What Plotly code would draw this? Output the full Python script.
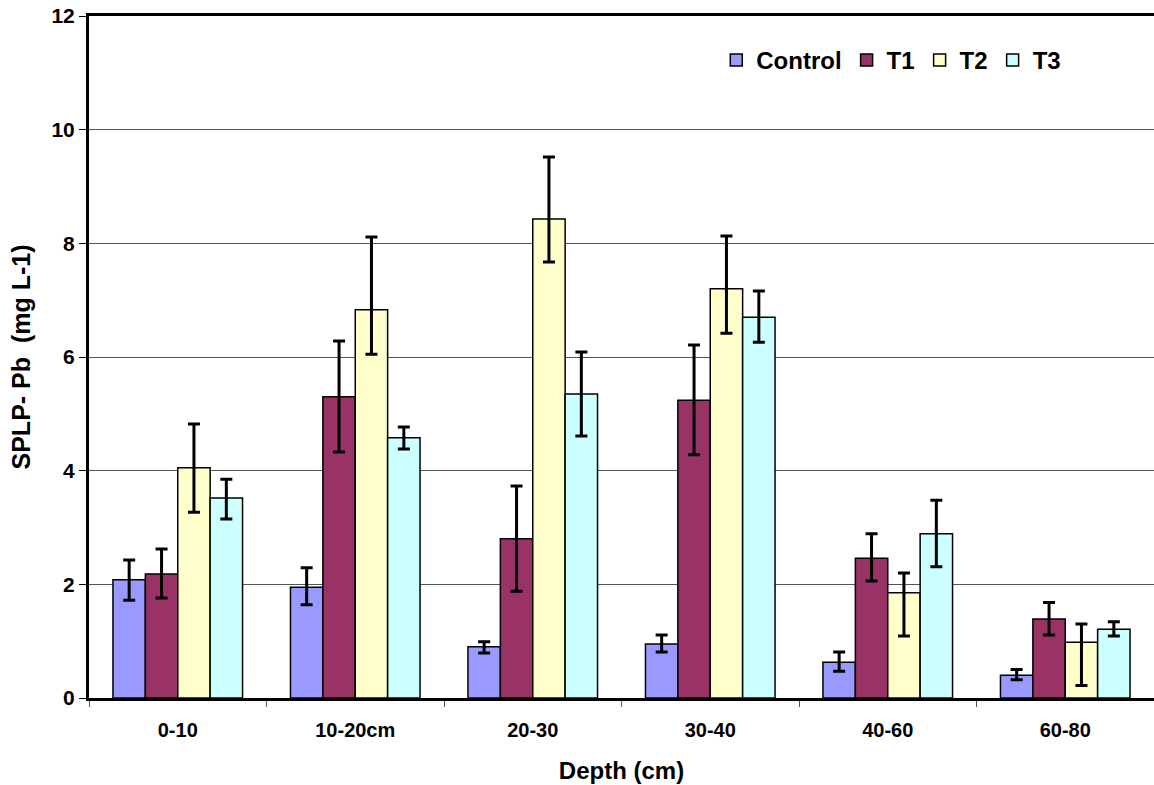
import plotly.graph_objects as go

categories = ["0-10", "10-20cm", "20-30", "30-40", "40-60", "60-80"]
series_names = ["Control", "T1", "T2", "T3"]
y_ticks = [0, 2, 4, 6, 8, 10, 12]

control = [2.08, 1.95, 0.90, 0.95, 0.63, 0.40]
control_plus = [0.35, 0.34, 0.09, 0.16, 0.18, 0.10]
control_minus = [0.36, 0.31, 0.11, 0.14, 0.16, 0.08]

t1 = [2.18, 5.30, 2.80, 5.24, 2.46, 1.39]
t1_plus = [0.44, 0.98, 0.93, 0.97, 0.43, 0.29]
t1_minus = [0.42, 0.97, 0.92, 0.96, 0.40, 0.28]

t2 = [4.05, 6.83, 8.43, 7.20, 1.85, 0.98]
t2_plus = [0.77, 1.28, 1.09, 0.93, 0.35, 0.32]
t2_minus = [0.78, 0.78, 0.76, 0.78, 0.76, 0.76]

t3 = [3.52, 4.58, 5.35, 6.70, 2.89, 1.21]
t3_plus = [0.33, 0.19, 0.74, 0.46, 0.59, 0.13]
t3_minus = [0.37, 0.20, 0.74, 0.44, 0.58, 0.12]

colors = ["#9999FF", "#993366", "#FFFFCC", "#CCFFFF"]

values = [control, t1, t2, t3]
plus = [control_plus, t1_plus, t2_plus, t3_plus]
minus = [control_minus, t1_minus, t2_minus, t3_minus]

FONT = "Arial, Liberation Sans, sans-serif"

fig = go.Figure()
for name, vals, p, m, c in zip(series_names, values, plus, minus, colors):
    fig.add_trace(go.Bar(
        name=f"<b>{name}</b>", x=categories, y=vals,
        marker=dict(color=c, line=dict(color="black", width=1.5)),
        error_y=dict(type="data", symmetric=False, array=p, arrayminus=m,
                     color="black", thickness=3, width=6),
    ))

fig.update_layout(
    width=1154, height=785,
    margin=dict(l=89, r=0, t=16, b=87, autoexpand=False),
    paper_bgcolor="white", plot_bgcolor="white",
    barmode="group", bargap=0.27, bargroupgap=0,
    font=dict(family=FONT, color="black", size=20),
    legend=dict(orientation="h", x=0.589, y=0.935, xanchor="left", yanchor="middle",
                font=dict(family=FONT, size=24, color="black"),
                bgcolor="rgba(0,0,0,0)", itemwidth=30, tracegroupgap=0),
    showlegend=True,
)

fig.update_xaxes(
    automargin=False,
    showline=True, linecolor="black", linewidth=3, mirror=True,
    ticks="outside", tickson="boundaries", ticklen=6, tickcolor="#555", tickwidth=1,
    tickvals=categories, ticktext=[f"<b>{c}</b>" for c in categories],
    tickfont=dict(family=FONT, size=20, color="black"),
    ticklabelstandoff=12, ticklabeloverflow="allow",
    title=dict(text="<b>Depth (cm)</b>", font=dict(family=FONT, size=24, color="black"), standoff=23),
    showgrid=False,
)
fig.update_yaxes(
    automargin=False,
    range=[0, 12],
    tickvals=y_ticks, ticktext=[f"<b>{v}</b>" for v in y_ticks],
    showline=True, linecolor="black", linewidth=3, mirror=False,
    ticks="outside", ticklen=7, tickcolor="black", tickwidth=1,
    tickfont=dict(family=FONT, size=21, color="black"),
    ticklabeloverflow="allow",
    showgrid=True, gridcolor="#555", gridwidth=1,
    zeroline=False,
    title=dict(text="<b>SPLP- Pb  (mg L-1)</b>", font=dict(family=FONT, size=25, color="black"), standoff=14),
)

fig.write_html("out.html", config={"displayModeBar": False},
               post_script="document.body.style.margin='0';")
